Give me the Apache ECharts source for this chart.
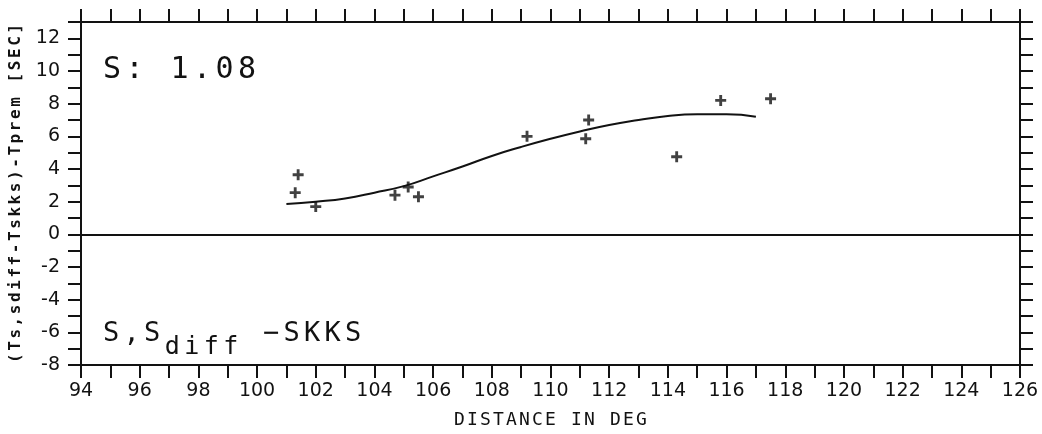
<!DOCTYPE html>
<html>
<head>
<meta charset="utf-8">
<script src="https://cdn.jsdelivr.net/npm/echarts@6/dist/echarts.min.js"></script>
<style>
  html, body { margin: 0; padding: 0; background: #ffffff; }
  #chart { width: 1042px; height: 434px; }
</style>
</head>
<body>
<div id="chart"></div>
<script>
// Travel-time residuals of S / Sdiff relative to SKKS versus epicentral distance
const distances = [101.3, 101.4, 102.0, 104.7, 105.15, 105.5, 109.2, 111.2, 111.3, 114.3, 115.8, 117.5];
const residuals = [2.55, 3.65, 1.7, 2.4, 2.9, 2.3, 6.0, 5.85, 7.0, 4.75, 8.2, 8.3];

// Smoothed trend through the residuals
const trendDist = [101.0, 102.0, 103.0, 104.0, 105.0, 106.0, 107.0, 108.0, 109.0, 110.0, 111.0, 112.0, 113.0, 114.0, 115.0, 116.0, 117.0];
const trendRes  = [1.85, 2.0, 2.2, 2.55, 2.95, 3.55, 4.15, 4.8, 5.35, 5.85, 6.3, 6.7, 7.0, 7.25, 7.35, 7.35, 7.2];

const xRange = [94, 126];
const yRange = [-8, 13];
const xTitle = 'DISTANCE IN DEG';
const yTitle = '(Ts,sdiff-Tskks)-Tprem [SEC]';
const stationLabel = 'S: 1.08';
const phaseMain = 'S,S';
const phaseSub = 'diff';
const phaseRef = ' \u2212SKKS';

const ink = '#121212';
const font = 'DejaVu Sans';
const mono = 'DejaVu Sans Mono';

const plus = 'path://M3.7,0h2.6v3.7h3.7v2.6h-3.7v3.7h-2.6v-3.7h-3.7v-2.6h3.7z';

// Plotter-style lettering: every character sits in a fixed-width cell
function spaced(str, key) {
  return str.split('').map(ch => '{' + key + '|' + (ch === ' ' ? '\u00a0' : ch) + '}').join('');
}
function cell(size, pitch, extra) {
  return Object.assign({ fontFamily: mono, fontSize: size, width: pitch, align: 'center', color: ink, fill: ink }, extra || {});
}

function axisBase(showLabels, isX) {
  return {
    type: 'value',
    min: isX ? xRange[0] : yRange[0],
    max: isX ? xRange[1] : yRange[1],
    interval: 1,
    axisLine: { show: true, onZero: false, lineStyle: { color: ink, width: 2 } },
    axisTick: { show: true, inside: false, length: 13, lineStyle: { color: ink, width: 2 } },
    splitLine: { show: false },
    axisLabel: {
      show: showLabels,
      color: ink,
      fontFamily: font,
      fontSize: 19,
      margin: isX ? 17 : 21,
      formatter: v => (Math.round(v) % 2 === 0 ? String(v) : '')
    }
  };
}

const xBottom = Object.assign(axisBase(true, true), {
  position: 'bottom',
  name: spaced(xTitle, 'c'),
  nameLocation: 'middle',
  nameGap: 46,
  nameTextStyle: { color: ink, rich: { c: cell(18, 13) } }
});
const xTop = Object.assign(axisBase(false, true), { position: 'top' });
const yLeft = Object.assign(axisBase(true, false), {
  position: 'left',
  name: spaced(yTitle, 'c'),
  nameLocation: 'middle',
  nameGap: 57,
  nameRotate: 90,
  nameTextStyle: { color: ink, rich: { c: cell(16, 12.2, { fontWeight: 'bold' }) } }
});
const yRight = Object.assign(axisBase(false, false), { position: 'right' });

const chart = echarts.init(document.getElementById('chart'), null, { renderer: 'canvas' });
chart.setOption({
  backgroundColor: '#ffffff',
  animation: false,
  grid: { left: 80, right: 22, top: 22, bottom: 69 },
  xAxis: [xBottom, xTop],
  yAxis: [yLeft, yRight],
  graphic: [
    {
      type: 'text', left: 103, top: 55,
      style: {
        text: spaced(stationLabel, 'c'),
        rich: { c: cell(30, 22.5) }
      }
    },
    {
      type: 'text', left: 101, top: 320,
      style: {
        text: spaced(phaseMain, 'm') + spaced(phaseSub, 's') + spaced(phaseRef, 'm'),
        rich: {
          m: cell(27, 20.5, { verticalAlign: 'top', lineHeight: 30 }),
          s: cell(25, 19.5, { verticalAlign: 'bottom', lineHeight: 40 })
        }
      }
    }
  ],
  series: [
    {
      type: 'line',
      xAxisIndex: 0, yAxisIndex: 0,
      data: trendDist.map((d, i) => [d, trendRes[i]]),
      smooth: true,
      showSymbol: false,
      symbol: 'none',
      lineStyle: { color: ink, width: 2 },
      markLine: {
        silent: true,
        symbol: 'none',
        label: { show: false },
        lineStyle: { color: ink, width: 2, type: 'solid' },
        data: [{ yAxis: 0 }]
      },
      z: 3
    },
    {
      type: 'scatter',
      xAxisIndex: 0, yAxisIndex: 0,
      data: distances.map((d, i) => [d, residuals[i]]),
      symbol: plus,
      symbolSize: 11,
      itemStyle: { color: ink },
      z: 4
    }
  ]
});
</script>
</body>
</html>
